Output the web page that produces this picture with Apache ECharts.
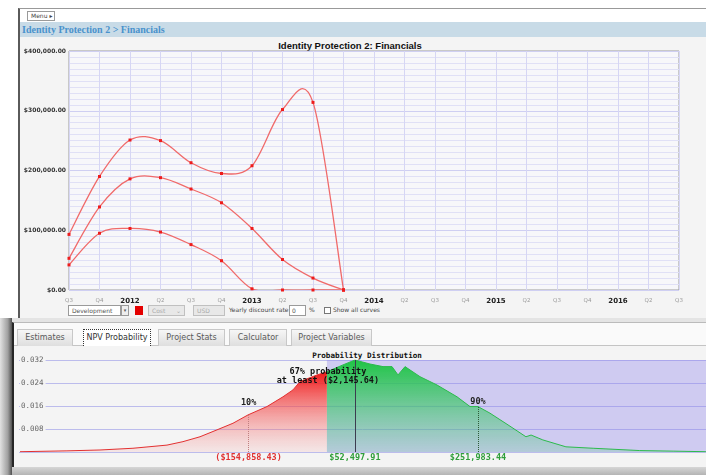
<!DOCTYPE html>
<html><head><meta charset="utf-8">
<script src="https://cdn.jsdelivr.net/npm/echarts@6/dist/echarts.min.js"></script>
<style>
html,body{margin:0;padding:0;width:706px;height:475px;overflow:hidden;background:#fff;font-family:"DejaVu Sans",sans-serif;}
.a{position:absolute;box-sizing:border-box;white-space:nowrap;}
.tab{top:329px;height:17px;border:1px solid #c8c8c8;border-bottom:none;background:linear-gradient(#f6f6f6,#dedede);font-size:8px;color:#5a5a5a;line-height:16px;text-align:center;}
.ctl{top:305px;height:11px;font-size:6px;line-height:9px;color:#555;}
</style></head><body>
<!-- upper window -->
<div class="a" style="left:18px;top:8px;width:688px;height:311px;background:#f4f4f4;border-left:2px solid #5a5a5a;border-top:1px solid #999;"></div>
<div class="a" style="left:20px;top:9px;width:686px;height:13px;background:#fff;"></div>
<div class="a" style="left:27px;top:11px;width:28px;height:10px;border:1px solid #9a9a9a;background:#fff;font-size:6px;line-height:8px;padding-left:3px;color:#444;">Menu ▸</div>
<div class="a" style="left:20px;top:22px;width:686px;height:15px;background:#c8dbe7;font-family:'Liberation Serif',serif;font-weight:bold;font-size:10px;line-height:15px;padding-left:2px;color:#4a92cc;">Identity Protection 2 &gt; Financials</div>
<div class="a" style="left:0px;top:40px;width:700px;height:12px;text-align:center;font-family:'Liberation Sans',sans-serif;font-weight:bold;font-size:9.5px;line-height:12px;color:#111;">Identity Protection 2: Financials</div>
<!-- controls row -->
<div class="a ctl" style="left:68px;width:53px;border:1px solid #9a9a9a;background:#fff;padding-left:3px;">Development</div>
<div class="a ctl" style="left:121px;width:8px;border:1px solid #9a9a9a;background:#eee;text-align:center;font-size:5px;">▾</div>
<div class="a" style="left:135px;top:306px;width:8px;height:9px;background:#e40000;"></div>
<div class="a ctl" style="left:148px;width:37px;border:1px solid #c0c0c0;background:#e8e8e8;padding-left:3px;color:#aaa;">Cost<span style="position:absolute;right:3px;">⌄</span></div>
<div class="a ctl" style="left:193px;width:32px;border:1px solid #c0c0c0;background:#e8e8e8;padding-left:3px;color:#aaa;">USD</div>
<div class="a ctl" style="left:229px;color:#444;font-size:6px;">Yearly discount rate</div>
<div class="a ctl" style="left:289px;width:17px;border:1px solid #9a9a9a;background:#fff;padding-left:2px;">0</div>
<div class="a ctl" style="left:309px;color:#444;">%</div>
<div class="a" style="left:324px;top:307px;width:7px;height:7px;border:1px solid #777;background:#fff;"></div>
<div class="a ctl" style="left:333px;color:#444;">Show all curves</div>
<!-- lower window -->
<div class="a" style="left:0px;top:318px;width:706px;height:5px;background:#e4e4e4;"></div>
<div class="a" style="left:12px;top:322px;width:694px;height:146px;background:#f4f4f4;border-left:2px solid #262626;border-top:1px solid #bbb;"></div>
<div class="a" style="left:14px;top:323px;width:692px;height:23px;background:#fafafa;border-bottom:1px solid #c4c4c4;"></div>
<div class="a" style="left:0px;top:318px;width:12px;height:157px;background:linear-gradient(to right,#e2e2e2,#a0a0a0 65%,#505050);"></div>
<div class="a" style="left:12px;top:467px;width:694px;height:8px;background:linear-gradient(#d6d6d6,#b4b4b4);"></div>
<div class="a tab" style="left:17px;width:56px;">Estimates</div>
<div class="a tab" style="left:83px;width:68px;background:#fff;border:1px dotted #333;border-bottom:none;color:#333;">NPV Probability</div>
<div class="a tab" style="left:158px;width:67px;">Project Stats</div>
<div class="a tab" style="left:229px;width:58px;">Calculator</div>
<div class="a tab" style="left:291px;width:81px;">Project Variables</div>
<div class="a" style="left:0px;top:350px;width:734px;height:11px;text-align:center;font-family:'DejaVu Sans Mono',monospace;font-weight:bold;font-size:7.6px;line-height:11px;color:#111;">Probability Distribution</div>

<div id="c" class="a" style="left:0;top:0;width:706px;height:475px;z-index:5;"></div>
<script>
// ---------- upper chart data ----------
const quarterLabels = ['Q3','Q4','2012','Q2','Q3','Q4','2013','Q2','Q3','Q4','2014','Q2','Q3','Q4','2015','Q2','Q3','Q4','2016','Q2','Q3'];
const curveHigh = [93000,190000,251000,250000,213000,195000,208000,302000,314000,0];
const curveMid  = [53000,139000,186000,188000,169000,146000,103000,51000,20000,0];
const curveLow  = [42000,95000,103000,97000,76000,49000,2000,0,0,0];

// ---------- lower chart data ----------
const npvValues = [-600600,-509000,-444600,-380300,-314000,-282800,-249600,-216500,-185300,-156000,-119000,-87800,-68300,-54600,-21500,-2145.64,29300,52500,81900,107300,124800,136500,150200,179400,212600,251600,276900,292500,315900,353000,386000,396000,419000,464000,517000,608000,673000,737000];
const density   = [0.0001,0.0004,0.0007,0.0013,0.0024,0.0036,0.0053,0.0077,0.0100,0.0129,0.0158,0.0192,0.0216,0.0245,0.0268,0.0279,0.0303,0.0320,0.0306,0.0297,0.0297,0.0268,0.0297,0.0262,0.0233,0.0192,0.0158,0.0158,0.0135,0.0092,0.0053,0.0059,0.0042,0.0018,0.0013,0.0005,0.0003,0.0001];
const npvMin = -602550, npvMax = 737100;
const breakEven = -2145.64;       // 67% probability at least
const p10 = -154858.43, p10Density = 0.0129;
const p67Line = 52497.91;
const p90 = 292500, p90Density = 0.0158; // position
const markerTexts = {p10:'10%', p90:'90%', p10Val:'($154,858.43)', p67Val:'$52,497.91', p90Val:'$251,983.44', p67:'67% probability\nat least ($2,145.64)'};
const densityTicks = [0.008,0.016,0.024,0.032];

const redPts = [], greenPts = [];
npvValues.forEach((v,i)=>{ if(v<=breakEven) redPts.push([v,density[i]]); if(v>=breakEven) greenPts.push([v,density[i]]); });

const mono = 'DejaVu Sans Mono';
const clear = 'rgba(0,0,0,0)';

// marker-only line series (points)
const markerSeries = vals => ({type:'line', data:vals, symbol:'rect', symbolSize:3, showSymbol:true, xAxisIndex:0, yAxisIndex:0, z:4,
  lineStyle:{color:clear, width:0}, itemStyle:{color:'#ee1c1c'}});

// Catmull-Rom curve through the data points, drawn through the axis scales
const curveSeries = vals => ({type:'custom', xAxisIndex:0, yAxisIndex:0, clip:true, z:3,
  data: vals.map((v,i)=>[i,v]),
  renderItem:(params, api)=>{
    if (params.dataIndex !== 0) return null;
    const p = vals.map((v,i)=>api.coord([i,v]));
    let d = 'M'+p[0][0]+' '+p[0][1];
    for (let i=0;i<p.length-1;i++){
      const p0=p[i-1]||p[i], p1=p[i], p2=p[i+1], p3=p[i+2]||p[i+1];
      const c1=[p1[0]+(p2[0]-p0[0])/6, p1[1]+(p2[1]-p0[1])/6];
      const c2=[p2[0]-(p3[0]-p1[0])/6, p2[1]-(p3[1]-p1[1])/6];
      d += ' C'+c1[0]+' '+c1[1]+' '+c2[0]+' '+c2[1]+' '+p2[0]+' '+p2[1];
    }
    return {type:'path', shape:{pathData:d}, style:{fill:null, stroke:'#f06a6a', lineWidth:1.3}};
  }});

const chart = echarts.init(document.getElementById('c'));
chart.setOption({
  animation:false,
  grid:[
    {left:69, top:51, width:610, height:239, show:true, backgroundColor:'#f7f7fa', borderColor:'#9c9c9c', borderWidth:1},
    {left:19, top:360, width:687, height:92}
  ],
  xAxis:[
    {type:'category', gridIndex:0, data:quarterLabels, boundaryGap:false,
     axisLine:{show:false}, axisTick:{show:false},
     splitLine:{show:true, lineStyle:{color:'#d6d6f4', width:1}},
     axisLabel:{interval:0, margin:8, formatter:v=>/^\d{4}$/.test(v)?'{y|'+v+'}':'{q|'+v+'}',
       rich:{y:{fontFamily:'DejaVu Sans', fontWeight:'bold', fontSize:7, color:'#222'}, q:{fontFamily:'DejaVu Sans', fontSize:5.5, color:'#999'}}}},
    {type:'value', gridIndex:1, min:npvMin, max:npvMax, show:false, splitLine:{show:false}}
  ],
  yAxis:[
    {type:'value', gridIndex:0, min:0, max:400000, interval:100000,
     axisLine:{show:false}, axisTick:{show:false},
     splitLine:{show:true, lineStyle:{color:'#cfcff2'}},
     minorTick:{show:false, splitNumber:10},
     minorSplitLine:{show:true, lineStyle:{color:'#e0e0f6'}},
     axisLabel:{margin:3, fontFamily:'DejaVu Sans', fontSize:6, fontWeight:'bold', color:'#333',
       formatter:v=>'$'+v.toLocaleString('en-US',{minimumFractionDigits:2, maximumFractionDigits:2})}},
    {type:'value', gridIndex:1, min:0, max:0.032, interval:0.008,
     axisLine:{show:false}, axisTick:{show:false},
     splitLine:{show:true, lineStyle:{color:'#bcbcec'}},
     axisLabel:{inside:true, margin:1, fontFamily:mono, fontSize:7.5, color:'#666', backgroundColor:'#f4f4f4', padding:[0,2,0,1],
       formatter:v=>densityTicks.includes(+v.toFixed(3))?v.toFixed(3):''}}
  ],
  series:[
    curveSeries(curveHigh), curveSeries(curveMid), curveSeries(curveLow),
    markerSeries(curveHigh), markerSeries(curveMid), markerSeries(curveLow),
    {type:'line', xAxisIndex:1, yAxisIndex:1, data:[], z:1,
     markArea:{silent:true, itemStyle:{color:'rgba(140,130,235,0.36)'},
       data:[[{coord:[breakEven,0]},{coord:[npvMax,0.032]}]]}},
    {type:'line', xAxisIndex:1, yAxisIndex:1, data:redPts, symbol:'none', z:3,
     lineStyle:{color:'#e23030', width:1},
     areaStyle:{opacity:1, color:new echarts.graphic.LinearGradient(0,0,0,1,[{offset:0,color:'#f01616'},{offset:1,color:'rgba(246,150,150,0.15)'}])},
     markLine:{silent:true, symbol:'none',
       data:[
         [{coord:[p10,0], lineStyle:{type:'dotted', color:'#c08080', width:1},
           label:{show:true, position:'end', distance:8, formatter:markerTexts.p10, fontFamily:mono, fontWeight:'bold', fontSize:8.5, color:'#222'}},
          {coord:[p10,p10Density]}],
         [{coord:[p10,0], lineStyle:{color:clear, width:1},
           label:{show:true, position:'start', distance:1, formatter:markerTexts.p10Val, fontFamily:mono, fontWeight:'bold', fontSize:8.5, color:'#e03030'}},
          {coord:[p10,0.001]}]
       ]}},
    {type:'line', xAxisIndex:1, yAxisIndex:1, data:greenPts, symbol:'none', z:3,
     lineStyle:{color:'#2cba4c', width:1},
     areaStyle:{opacity:1, color:new echarts.graphic.LinearGradient(0,0,0,1,[{offset:0,color:'#1ec444'},{offset:1,color:'rgba(70,200,120,0.2)'}])},
     markLine:{silent:true, symbol:'none',
       data:[
         [{coord:[p67Line,0], lineStyle:{type:'solid', color:'#3c3c50', width:1},
           label:{show:true, position:'start', distance:1, formatter:markerTexts.p67Val, fontFamily:mono, fontWeight:'bold', fontSize:8.5, color:'#2f9e3a'}},
          {coord:[p67Line,0.032]}],
         [{coord:[p90,0], lineStyle:{type:'dotted', color:'#2d5a38', width:1},
           label:{show:true, position:'end', distance:0, formatter:markerTexts.p90, fontFamily:mono, fontWeight:'bold', fontSize:8.5, color:'#222'}},
          {coord:[p90,p90Density]}],
         [{coord:[p90,0], lineStyle:{color:clear, width:1},
           label:{show:true, position:'start', distance:1, formatter:markerTexts.p90Val, fontFamily:mono, fontWeight:'bold', fontSize:8.5, color:'#2f9e3a'}},
          {coord:[p90,0.001]}]
       ]},
     markPoint:{silent:true, symbol:'rect', symbolSize:1, itemStyle:{color:clear},
       data:[{coord:[breakEven+2000,0.0263],
         label:{show:true, position:'inside', formatter:markerTexts.p67, fontFamily:mono, fontWeight:'bold', fontSize:8.5, lineHeight:9, color:'#111', align:'center'}}]}}
  ]
});
</script>
</body></html>
